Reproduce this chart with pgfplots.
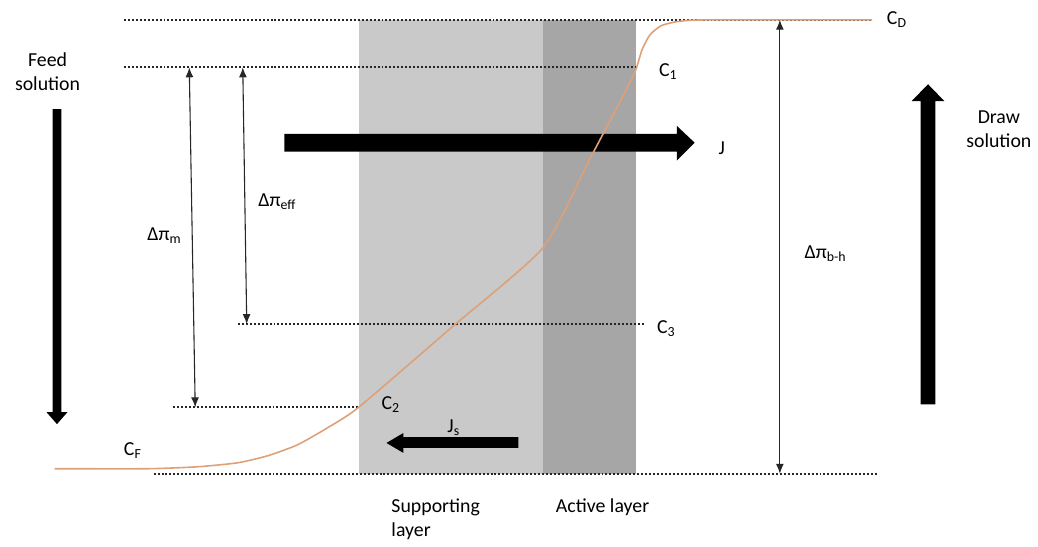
\documentclass[border=0pt]{standalone}
\usepackage{pgfplots}
\pgfplotsset{compat=1.18}
\usepackage{fontspec}
\setmainfont{Carlito}
\usetikzlibrary{arrows.meta}
\definecolor{supp}{RGB}{201,201,201}
\definecolor{act}{RGB}{166,166,166}
\definecolor{curve}{RGB}{222,160,118}
\definecolor{txt}{RGB}{40,40,40}
\begin{document}
\begin{tikzpicture}
\begin{axis}[
  scale only axis, width=519pt, height=276pt,
  xmin=0, xmax=1038, ymin=0, ymax=552, y dir=reverse,
  axis lines=none, clip=false,
  every node/.style={font=\fontsize{12}{13}\selectfont, text=txt},
  dots/.style={densely dotted, line width=1pt, black!85},
  thin/.style={line width=0.55pt, black!85, {Latex[length=5pt,width=4pt]}-{Latex[length=5pt,width=4pt]}},
]
% frame corners (invisible)
\addplot[draw=none] coordinates {(0,0) (1038,552)};
% membrane layers
\addplot[fill=supp, draw=none] coordinates {(362,20) (548,20) (548,478) (362,478)} -- cycle;
\addplot[fill=act, draw=none] coordinates {(548,20) (642,20) (642,478) (548,478)} -- cycle;
% dotted levels
\addplot[dots] coordinates {(125,20) (880,20)};
\addplot[dots] coordinates {(125,68) (642,68)};
\addplot[dots] coordinates {(240,327) (650,327)};
\addplot[dots] coordinates {(175,411) (362,411)};
\addplot[dots] coordinates {(155,478) (885,478)};
% water flux J
\addplot[fill=black, draw=none] coordinates {(287,135) (683,135) (683,127) (701,144) (683,162) (683,153) (287,153)} -- cycle;
% concentration profile
\addplot[curve, line width=0.8pt, smooth, tension=0.35] coordinates {
 (55,473) (150,473) (200,471) (240,467) (270,460) (300,449) (330,432) (362,411)
 (455,331) (548,250) (596,159) (627,100) (641,72) (648,50) (656,35) (667,26)
 (682,22) (700,20.3) (740,20) (880,20)};
% feed arrow
\addplot[fill=black, draw=none] coordinates {(53,110) (62,110) (62,416) (68,416) (57.5,428) (47,416) (53,416)} -- cycle;
% draw arrow
\addplot[fill=black, draw=none] coordinates {(929,408) (944,408) (944,102) (953,102) (936.5,85) (920,102) (929,102)} -- cycle;
% solute flux Js
\addplot[fill=black, draw=none] coordinates {(523,441) (407,441) (407,437) (390,447) (407,457) (407,452) (523,452)} -- cycle;
% thin double arrows
\addplot[thin] coordinates {(191,68) (197,411)};
\addplot[thin] coordinates {(245,68) (249,327)};
\addplot[thin] coordinates {(787,20) (787,478)};
% labels
\node[align=center] at (48,72) {Feed\\solution};
\node[align=center] at (1008,130) {Draw\\solution};
\node[anchor=west] at (888,20) {C\textsubscript{D}};
\node[anchor=west] at (658,72) {C\textsubscript{1}};
\node[anchor=west] at (656,332) {C\textsubscript{3}};
\node[anchor=west] at (378,408) {C\textsubscript{2}};
\node[anchor=west] at (118,455) {C\textsubscript{F}};
\node[anchor=west] at (718,150) {J};
\node at (458,432) {J\textsubscript{s}};
\node at (166,238) {Δπ\textsubscript{m}};
\node at (280,204) {Δπ\textsubscript{eff}};
\node[anchor=west] at (805,256) {Δπ\textsubscript{b-h}};
\node[align=left, anchor=north west] at (388,496) {Supporting\\layer};
\node[anchor=north west] at (554,496) {Active layer};
\end{axis}
\end{tikzpicture}
\end{document}
